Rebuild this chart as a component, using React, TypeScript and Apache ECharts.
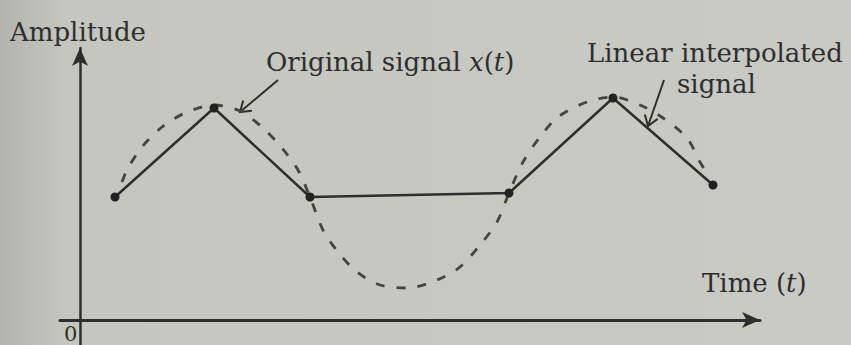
import React, { useEffect, useRef } from "react";
import * as echarts from "echarts";

// Samples of x(t) joined by straight segments (linear interpolation)
const sampleTimes = [0.35, 1.34, 2.3, 4.29, 5.33, 6.33];
const sampleValues = [1.23, 2.12, 1.23, 1.27, 2.22, 1.35];

// Points traced along the original continuous signal x(t)
const originalTimes = [
  0.42, 0.48, 0.62, 0.82, 1.05, 1.34, 1.6, 1.83, 2.02, 2.18, 2.3, 2.43, 2.58,
  2.77, 3.0, 3.28, 3.57, 3.8, 4.0, 4.17, 4.29, 4.43, 4.6, 4.78, 5.07, 5.33,
  5.6, 5.83, 6.07, 6.2, 6.26,
];
const originalValues = [
  1.38, 1.52, 1.73, 1.93, 2.07, 2.15, 2.09, 1.92, 1.72, 1.5, 1.23, 0.9, 0.68,
  0.48, 0.35, 0.32, 0.4, 0.53, 0.75, 0.98, 1.27, 1.58, 1.83, 2.03, 2.18, 2.23,
  2.15, 2.02, 1.82, 1.58, 1.48,
];

const INK = "#2e2e2e";
const SERIF = "'DejaVu Serif', 'Liberation Serif', serif";
const LABEL_SIZE = 26;
const LABEL_FONT = `${LABEL_SIZE}px ${SERIF}`;

function arrow(tail: number[], tip: number[], len = 12, spread = 0.6) {
  const dx = tail[0] - tip[0];
  const dy = tail[1] - tip[1];
  const ang = Math.atan2(dy, dx);
  const a1 = [tip[0] + len * Math.cos(ang + spread), tip[1] + len * Math.sin(ang + spread)];
  const a2 = [tip[0] + len * Math.cos(ang - spread), tip[1] + len * Math.sin(ang - spread)];
  return [
    {
      type: "line",
      shape: { x1: tail[0], y1: tail[1], x2: tip[0], y2: tip[1] },
      style: { stroke: INK, lineWidth: 2 },
    },
    {
      type: "polyline",
      shape: { points: [a1, tip, a2] },
      style: { stroke: INK, lineWidth: 2, fill: "none" },
    },
  ];
}

export default function App() {
  const ref = useRef<HTMLDivElement>(null);

  useEffect(() => {
    if (!ref.current) return;
    const chart = echarts.init(ref.current, null, { renderer: "svg" });
    const italic = {
      fontFamily: SERIF,
      fontSize: LABEL_SIZE,
      fontStyle: "italic",
      fill: INK,
    };
    chart.setOption({
      animation: false,
      backgroundColor: {
        type: "linear",
        x: 0,
        y: 0,
        x2: 1,
        y2: 0,
        colorStops: [
          { offset: 0, color: "#b2b4ad" },
          { offset: 0.08, color: "#c4c6bf" },
          { offset: 1, color: "#c9cac4" },
        ],
      },
      grid: { left: 60, right: 91, top: 48, bottom: 0 },
      xAxis: {
        type: "value",
        min: -0.2,
        max: 6.8,
        axisLine: {
          onZero: true,
          symbol: ["none", "arrow"],
          symbolSize: [12, 18],
          lineStyle: { color: INK, width: 3 },
        },
        axisTick: { show: false },
        axisLabel: { show: false },
        splitLine: { show: false },
      },
      yAxis: {
        type: "value",
        min: -0.25,
        max: 2.72,
        axisLine: {
          onZero: true,
          symbol: ["none", "arrow"],
          symbolSize: [12, 18],
          lineStyle: { color: INK, width: 2.5 },
        },
        axisTick: { show: false },
        axisLabel: { show: false },
        splitLine: { show: false },
      },
      series: [
        {
          name: "Original signal x(t)",
          type: "line",
          data: originalTimes.map((t, i) => [t, originalValues[i]]),
          smooth: 0.3,
          showSymbol: false,
          lineStyle: { color: "#444", width: 2.8, type: [9, 12] },
          z: 2,
        },
        {
          name: "Linear interpolated signal",
          type: "line",
          data: sampleTimes.map((t, i) => [t, sampleValues[i]]),
          symbol: "circle",
          symbolSize: 9,
          itemStyle: { color: "#222" },
          lineStyle: { color: INK, width: 2.5 },
          z: 3,
        },
      ],
      graphic: [
        {
          type: "text",
          x: 10,
          y: 32,
          style: {
            text: "Amplitude",
            font: LABEL_FONT,
            fill: INK,
            verticalAlign: "middle",
          },
        },
        {
          type: "text",
          x: 266,
          y: 62,
          style: {
            text: "Original signal {i|x}({i|t})",
            font: LABEL_FONT,
            fill: INK,
            verticalAlign: "middle",
            rich: { i: italic },
          },
        },
        {
          type: "text",
          x: 587,
          y: 53,
          style: {
            text: "Linear interpolated",
            font: LABEL_FONT,
            fill: INK,
            verticalAlign: "middle",
          },
        },
        {
          type: "text",
          x: 677,
          y: 84,
          style: {
            text: "signal",
            font: LABEL_FONT,
            fill: INK,
            verticalAlign: "middle",
          },
        },
        {
          type: "text",
          x: 702,
          y: 283,
          style: {
            text: "Time ({i|t})",
            font: LABEL_FONT,
            fill: INK,
            verticalAlign: "middle",
            rich: { i: italic },
          },
        },
        {
          type: "text",
          x: 64,
          y: 334,
          style: {
            text: "0",
            font: `21px ${SERIF}`,
            fill: INK,
            verticalAlign: "middle",
          },
        },
        ...arrow([278, 80], [240, 112]),
        ...arrow([664, 80], [648, 126]),
      ],
    });
    return () => chart.dispose();
  }, []);

  return (
    <div
      ref={ref}
      style={{ position: "fixed", left: 0, top: 0, width: 851, height: 345 }}
    />
  );
}
